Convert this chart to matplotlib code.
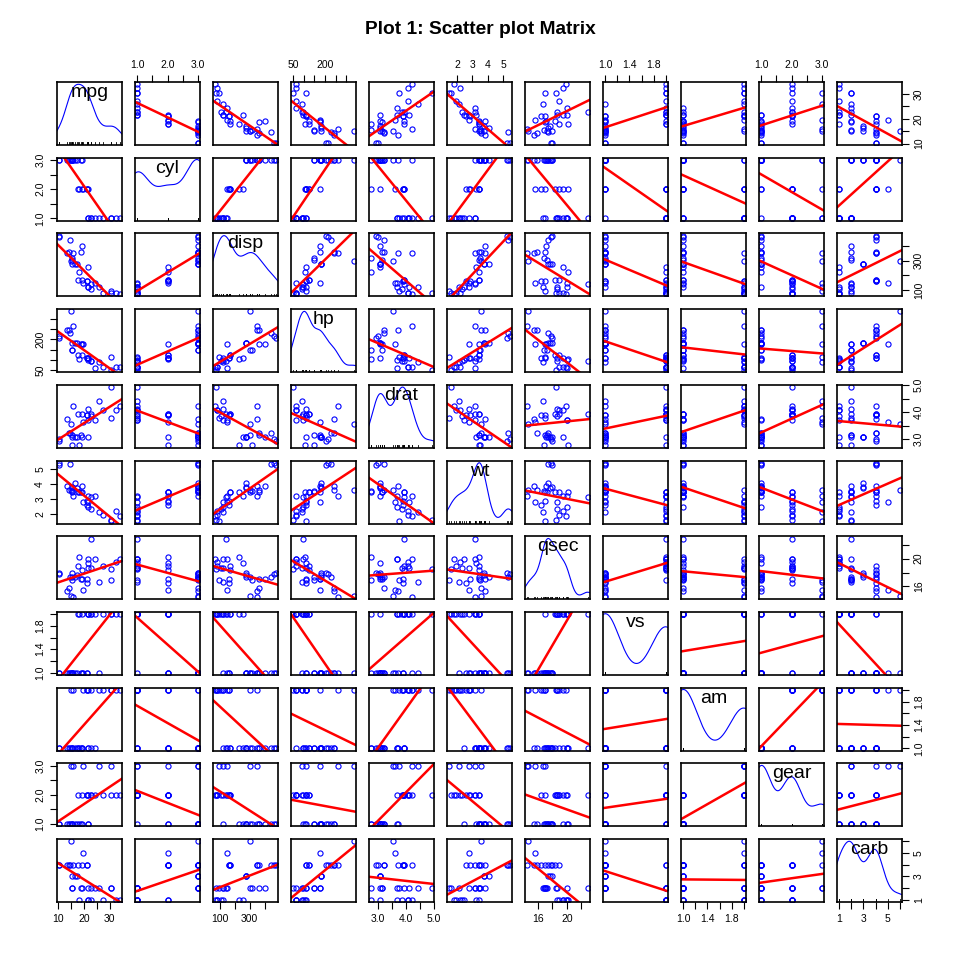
import matplotlib.pyplot as plt
import numpy as np

plt.rcParams['font.family'] = ['Liberation Sans', 'DejaVu Sans']

# mtcars data (32 cars)
mpg = [21.0, 21.0, 22.8, 21.4, 18.7, 18.1, 14.3, 24.4, 22.8, 19.2, 17.8, 16.4, 17.3, 15.2, 10.4, 10.4,
       14.7, 32.4, 30.4, 33.9, 21.5, 15.5, 15.2, 13.3, 19.2, 27.3, 26.0, 30.4, 15.8, 19.7, 15.0, 21.4]
cyl = [6, 6, 4, 6, 8, 6, 8, 4, 4, 6, 6, 8, 8, 8, 8, 8, 8, 4, 4, 4, 4, 8, 8, 8, 8, 4, 4, 4, 8, 6, 8, 4]
disp = [160.0, 160.0, 108.0, 258.0, 360.0, 225.0, 360.0, 146.7, 140.8, 167.6, 167.6, 275.8, 275.8, 275.8,
        472.0, 460.0, 440.0, 78.7, 75.7, 71.1, 120.1, 318.0, 304.0, 350.0, 400.0, 79.0, 120.3, 95.1,
        351.0, 145.0, 301.0, 121.0]
hp = [110, 110, 93, 110, 175, 105, 245, 62, 95, 123, 123, 180, 180, 180, 205, 215, 230, 66, 52, 65, 97,
      150, 150, 245, 175, 66, 91, 113, 264, 175, 335, 109]
drat = [3.90, 3.90, 3.85, 3.08, 3.15, 2.76, 3.21, 3.69, 3.92, 3.92, 3.92, 3.07, 3.07, 3.07, 2.93, 3.00,
        3.23, 4.08, 4.93, 4.22, 3.70, 2.76, 3.15, 3.73, 3.08, 4.08, 4.43, 3.77, 4.22, 3.62, 3.54, 4.11]
wt = [2.620, 2.875, 2.320, 3.215, 3.440, 3.460, 3.570, 3.190, 3.150, 3.440, 3.440, 4.070, 3.730, 3.780,
      5.250, 5.424, 5.345, 2.200, 1.615, 1.835, 2.465, 3.520, 3.435, 3.840, 3.845, 1.935, 2.140, 1.513,
      3.170, 2.770, 3.570, 2.780]
qsec = [16.46, 17.02, 18.61, 19.44, 17.02, 20.22, 15.84, 20.00, 22.90, 18.30, 18.90, 17.40, 17.60, 18.00,
        17.98, 17.82, 17.42, 19.47, 18.52, 19.90, 20.01, 16.87, 17.30, 15.41, 17.05, 18.90, 16.70, 16.90,
        14.50, 15.50, 14.60, 18.60]
vs = [0, 0, 1, 1, 0, 1, 0, 1, 1, 1, 1, 0, 0, 0, 0, 0, 0, 1, 1, 1, 1, 0, 0, 0, 0, 1, 0, 1, 0, 0, 0, 1]
am = [1, 1, 1, 0, 0, 0, 0, 0, 0, 0, 0, 0, 0, 0, 0, 0, 0, 1, 1, 1, 0, 0, 0, 0, 0, 1, 1, 1, 1, 1, 1, 1]
gear = [4, 4, 4, 3, 3, 3, 3, 4, 4, 4, 4, 3, 3, 3, 3, 3, 3, 4, 4, 4, 3, 3, 3, 3, 3, 4, 5, 5, 5, 5, 5, 4]
carb = [4, 4, 1, 1, 2, 1, 4, 2, 2, 4, 4, 3, 3, 3, 4, 4, 4, 1, 2, 1, 1, 2, 2, 4, 2, 1, 2, 2, 4, 6, 8, 2]

var_names = ['mpg', 'cyl', 'disp', 'hp', 'drat', 'wt', 'qsec', 'vs', 'am', 'gear', 'carb']
factor_vars = ['cyl', 'vs', 'am', 'gear', 'carb']

# axis ticks and their labels (blank = tick without label)
ticks = {
    'mpg': [10, 15, 20, 25, 30], 'cyl': [1.0, 1.5, 2.0, 2.5, 3.0], 'disp': [100, 200, 300, 400],
    'hp': [50, 100, 150, 200, 250, 300], 'drat': [3.0, 3.5, 4.0, 4.5, 5.0], 'wt': [2, 3, 4, 5],
    'qsec': [16, 18, 20, 22], 'vs': [1.0, 1.2, 1.4, 1.6, 1.8, 2.0], 'am': [1.0, 1.2, 1.4, 1.6, 1.8, 2.0],
    'gear': [1.0, 1.5, 2.0, 2.5, 3.0], 'carb': [1, 2, 3, 4, 5, 6],
}
tick_labels = {
    'mpg': ['10', '', '20', '', '30'], 'cyl': ['1.0', '', '2.0', '', '3.0'],
    'disp': ['100', '', '300', ''], 'hp': ['50', '', '', '200', '', ''],
    'drat': ['3.0', '', '4.0', '', '5.0'], 'wt': ['2', '3', '4', '5'], 'qsec': ['16', '', '20', ''],
    'vs': ['1.0', '', '1.4', '', '1.8', ''], 'am': ['1.0', '', '1.4', '', '1.8', ''],
    'gear': ['1.0', '', '2.0', '', '3.0'], 'carb': ['1', '', '3', '', '5', ''],
}

raw = {'mpg': mpg, 'cyl': cyl, 'disp': disp, 'hp': hp, 'drat': drat, 'wt': wt, 'qsec': qsec,
       'vs': vs, 'am': am, 'gear': gear, 'carb': carb}


def to_codes(values):
    # factor levels -> 1, 2, 3 ... like R
    levels = sorted(set(values))
    return np.array([levels.index(v) + 1 for v in values], dtype=float)


data = {}
for name in var_names:
    if name in factor_vars:
        data[name] = to_codes(raw[name])
    else:
        data[name] = np.array(raw[name], dtype=float)


def padded_range(x):
    lo, hi = x.min(), x.max()
    pad = (hi - lo) * 0.04
    return lo - pad, hi + pad


def density(x):
    # gaussian kernel density with R's bw.nrd0
    n = len(x)
    q75, q25 = np.percentile(x, [75, 25])
    bw = 0.9 * min(np.std(x, ddof=1), (q75 - q25) / 1.34) * n ** -0.2
    if bw == 0:
        bw = 0.9 * np.std(x, ddof=1) * n ** -0.2
    grid = np.linspace(x.min() - 3 * bw, x.max() + 3 * bw, 512)
    dens = np.exp(-0.5 * ((grid[:, None] - x[None, :]) / bw) ** 2).sum(axis=1) / (n * bw * np.sqrt(2 * np.pi))
    return grid, dens


fig = plt.figure(figsize=(9.6, 9.6), dpi=100)
fig.suptitle('Plot 1: Scatter plot Matrix', fontsize=13.8, fontweight='bold', y=0.978)

nvar = len(var_names)
left0, top0 = 57 / 960, 82 / 960
pitch_x, pitch_y = 78 / 960, 75.7 / 960
w, h = 65 / 960, 63 / 960

for i, yname in enumerate(var_names):
    for j, xname in enumerate(var_names):
        ax = fig.add_axes([left0 + j * pitch_x, 1 - top0 - i * pitch_y - h, w, h])
        x = data[xname]
        y = data[yname]
        ax.set_xlim(padded_range(x))
        for s in ax.spines.values():
            s.set_linewidth(1.2)

        if i == j:
            # diagonal: density, rug and variable name
            ax.set_ylim(padded_range(x))
            gx, gy = density(x)
            dy = x.min() + gy * (x.max() - x.min()) / (gy.max() - gy.min())
            ax.plot(gx, dy, color='blue', lw=0.8)
            for v in x:
                ax.plot([v, v], [0, 0.04], color='black', lw=0.6, transform=ax.get_xaxis_transform())
            ax.text(0.5, 0.833, xname, transform=ax.transAxes, ha='center', va='center', fontsize=14)
        else:
            ax.set_ylim(padded_range(y))
            ax.plot(x, y, 'o', mfc='none', mec='blue', ms=3.7, mew=0.8)
            slope, intercept = np.polyfit(x, y, 1)
            ax.axline((0, intercept), slope=slope, color='red', lw=1.8)

        # outer axes alternate like R pairs()
        ax.tick_params(length=5, width=0.8, labelsize=7.5, pad=3.5,
                       top=False, bottom=False, left=False, right=False,
                       labeltop=False, labelbottom=False, labelleft=False, labelright=False)
        ax.set_xticks(ticks[xname])
        ax.set_xticklabels(tick_labels[xname])
        ax.set_yticks(ticks[yname])
        ax.set_yticklabels(tick_labels[yname], rotation=90, va='center')
        if i == 0 and j % 2 == 1:
            ax.tick_params(top=True, labeltop=True)
        if i == nvar - 1 and j % 2 == 0:
            ax.tick_params(bottom=True, labelbottom=True)
        if j == 0 and i % 2 == 1:
            ax.tick_params(left=True, labelleft=True)
        if j == nvar - 1 and i % 2 == 0:
            ax.tick_params(right=True, labelright=True)

plt.savefig('out.png', dpi=100)
